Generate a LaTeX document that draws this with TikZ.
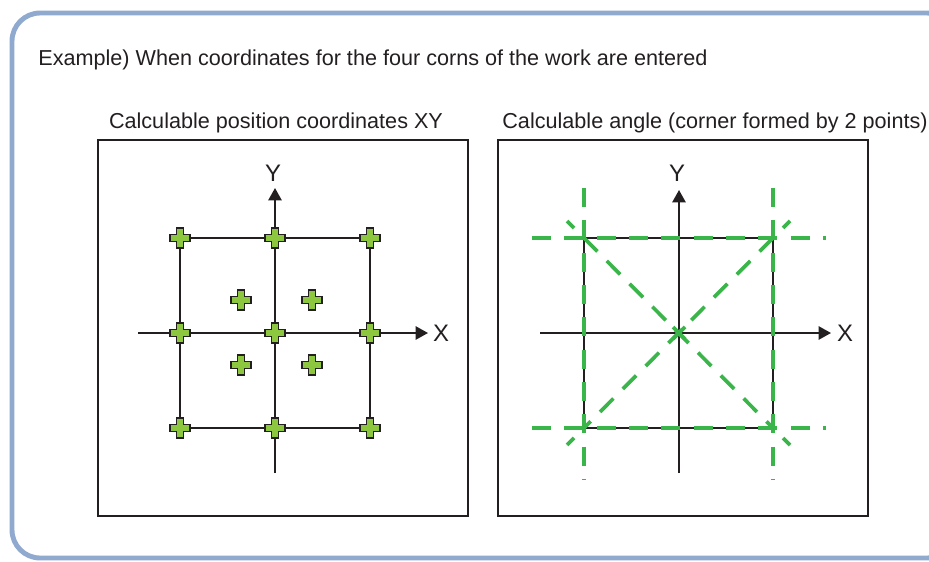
\documentclass[tikz,border=0pt]{standalone}
\usepackage{fontspec}
\setmainfont{Liberation Sans}
\definecolor{frameblue}{RGB}{143,170,206}
\definecolor{inkdark}{RGB}{35,31,32}
\definecolor{workgreen}{RGB}{141,198,63}
\definecolor{linegreen}{RGB}{57,181,74}
\usetikzlibrary{arrows.meta,positioning}
\tikzset{
  txt/.style={font=\fontsize{12.3}{14}\selectfont, text=inkdark, inner sep=0pt},
  axlabel/.style={font=\fontsize{13.6}{16}\selectfont, text=inkdark, inner sep=0pt},
  panel/.style={draw=inkdark, line width=1.4pt},
  axis/.style={draw=inkdark, line width=1.1pt, -{Triangle[length=7pt,width=7.5pt]}},
  gridline/.style={draw=inkdark, line width=1.1pt},
  guide/.style={draw=linegreen, line width=2.1pt, dash pattern=on 10.8pt off 7.6pt},
  guidetick/.style={draw=linegreen, line width=2.1pt},
  plusmark/.pic={
    \filldraw[fill=workgreen, draw=inkdark, line width=0.7pt]
      (-3.8,-10) -- (3.8,-10) -- (3.8,-3.8) -- (10,-3.8) -- (10,3.8) -- (3.8,3.8)
      -- (3.8,10) -- (-3.8,10) -- (-3.8,3.8) -- (-10,3.8) -- (-10,-3.8) -- (-3.8,-3.8) -- cycle;
  }
}
\begin{document}
\begin{tikzpicture}[x=0.02cm, y=-0.02cm]
  \useasboundingbox (0,0) rectangle (929,561);

  %% Outer frame
  \begin{scope}
    \clip (0,0) rectangle (929,561);
    \draw[frameblue, line width=2.8pt, rounded corners=16] (12,13) rectangle (955,558);
  \end{scope}

  %% Texts
  \node[txt, anchor=base west] (intro) at (38,65) {Example) When coordinates for the four corns of the work are entered};
  \node[txt, anchor=base] (ltitle) at (276,128) {Calculable position coordinates XY};
  \node[txt, anchor=base] (rtitle) at (715,128) {Calculable angle (corner formed by 2 points)};

  %% Panels
  \draw[panel] (98,140) rectangle (468,516);
  \draw[panel] (498,140) rectangle (868,516);

  %% Left panel: grid of work points
  \coordinate (la) at (180,238);
  \coordinate (lb) at (370,428);
  \draw[gridline] (la) rectangle (lb);
  \coordinate (lxs) at (138,333);
  \coordinate (lxe) at (428,333);
  \coordinate (lys) at (275,473);
  \coordinate (lye) at (275,188);
  \draw[axis] (lxs) -- (lxe);
  \draw[axis] (lys) -- (lye);
  \node[axlabel, anchor=base] (lxlab) at (441,341) {X};
  \node[axlabel, anchor=base] (lylab) at (273,181) {Y};

  \foreach \px in {180,275,370}
    \foreach \py in {238,333,428}
      \pic at (\px,\py) {plusmark};
  \foreach \px in {241,312}
    \foreach \py in {300,365}
      \pic at (\px,\py) {plusmark};

  %% Right panel: angles between two points
  \coordinate (ra) at (584,238);
  \coordinate (rb) at (773,238);
  \coordinate (rc) at (773,428);
  \coordinate (rd) at (584,428);
  \coordinate (rm) at (679,333);
  \draw[gridline] (ra) -- (rb) -- (rc) -- (rd) -- cycle;
  \coordinate (rxs) at (540,333);
  \coordinate (rxe) at (831,333);
  \coordinate (rys) at (679,473);
  \coordinate (rye) at (679,190);
  \draw[axis] (rxs) -- (rxe);
  \draw[axis] (rys) -- (rye);
  \node[axlabel, anchor=base] (rxlab) at (845,341) {X};
  \node[axlabel, anchor=base] (rylab) at (677,181) {Y};

  %% Green guide lines
  \draw[guide] (532,238) -- (826,238);
  \draw[guide] (532,428) -- (826,428);
  \draw[guide] (584,188) -- (584,480);
  \draw[guide] (773,188) -- (773,480);
  \draw[guide] (ra) -- (rc);
  \draw[guide] (rb) -- (rd);
  \draw[guidetick] (567,221) -- (574,228);
  \draw[guidetick] (790,221) -- (783,228);
  \draw[guidetick] (567,445) -- (574,438);
  \draw[guidetick] (790,445) -- (783,438);
  \draw[guidetick] (673,327) -- (685,339) (685,327) -- (673,339);
\end{tikzpicture}
\end{document}
